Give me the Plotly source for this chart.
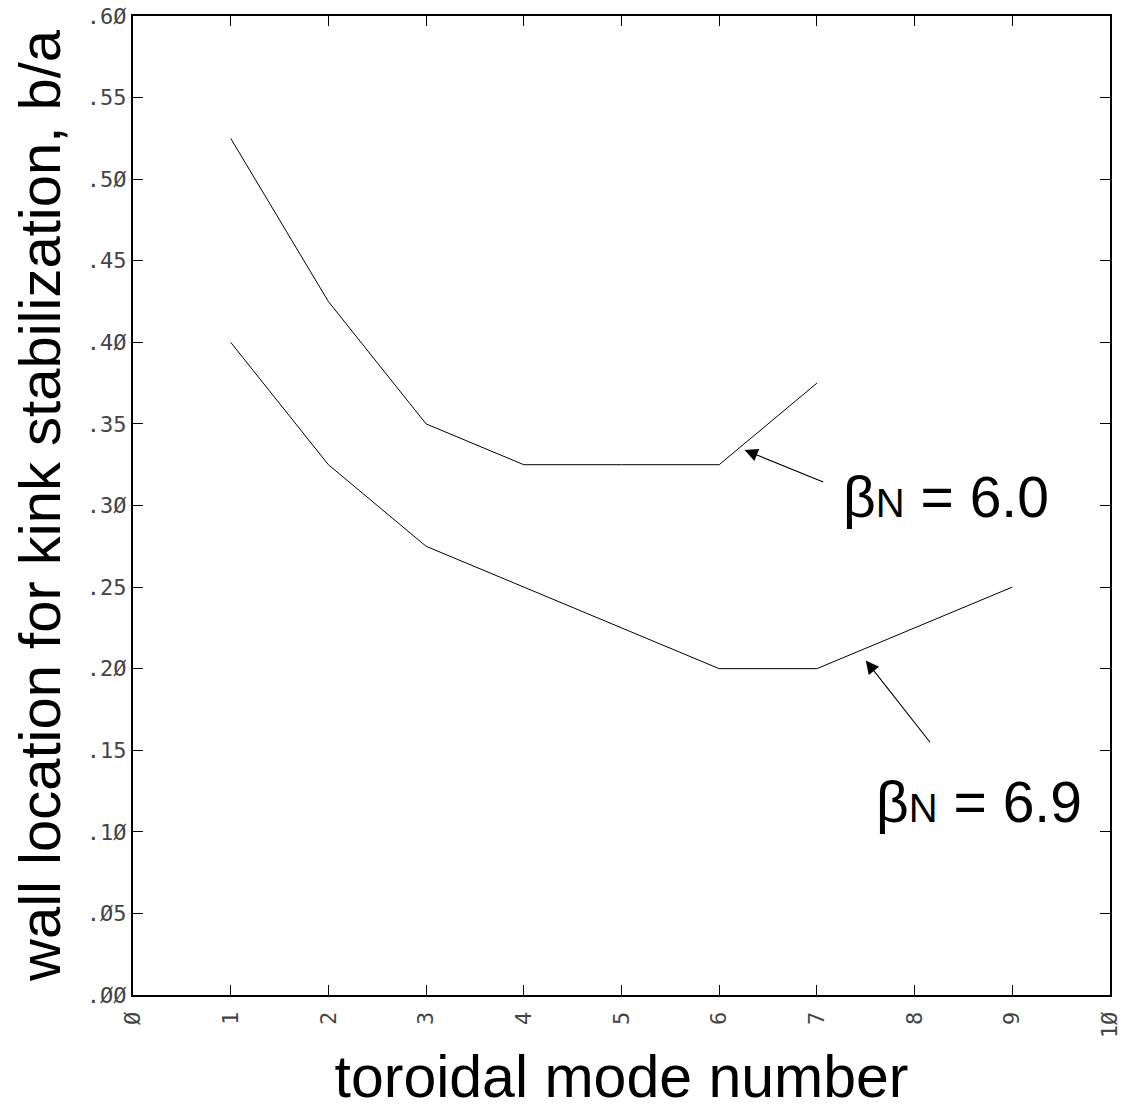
import plotly.graph_objects as go

# data
n_upper = [1, 2, 3, 4, 5, 6, 7]
ba_upper = [0.525, 0.425, 0.35, 0.325, 0.325, 0.325, 0.375]
n_lower = [1, 2, 3, 4, 5, 6, 7, 8, 9]
ba_lower = [0.40, 0.325, 0.275, 0.25, 0.225, 0.20, 0.20, 0.225, 0.25]

x_tickvals = [0, 1, 2, 3, 4, 5, 6, 7, 8, 9, 10]
x_ticktext = ["Ø", "1", "2", "3", "4", "5", "6", "7", "8", "9", "1Ø"]
y_tickvals = [0.0, 0.05, 0.10, 0.15, 0.20, 0.25, 0.30, 0.35, 0.40, 0.45, 0.50, 0.55, 0.60]
y_ticktext = [".ØØ", ".Ø5", ".1Ø", ".15", ".2Ø", ".25", ".3Ø", ".35", ".4Ø", ".45", ".5Ø", ".55", ".6Ø"]

labels = ["β<span style='font-size:40px'>N</span> = 6.0", "β<span style='font-size:40px'>N</span> = 6.9"]

fig = go.Figure()
line_style = dict(color="black", width=1)
fig.add_trace(go.Scatter(x=n_upper, y=ba_upper, mode="lines", line=line_style, showlegend=False))
fig.add_trace(go.Scatter(x=n_lower, y=ba_lower, mode="lines", line=line_style, showlegend=False))

# arrows
fig.add_annotation(x=6.26, y=0.334, ax=7.08, ay=0.314, xref="x", yref="y", axref="x", ayref="y",
                   text="", showarrow=True, arrowhead=2, arrowsize=2.4, arrowwidth=1.1, arrowcolor="black")
fig.add_annotation(x=7.50, y=0.205, ax=8.17, ay=0.154, xref="x", yref="y", axref="x", ayref="y",
                   text="", showarrow=True, arrowhead=2, arrowsize=2.4, arrowwidth=1.1, arrowcolor="black")
# labels
fig.add_annotation(x=8.32, y=0.305, xref="x", yref="y", text=labels[0], showarrow=False,
                   font=dict(family="Liberation Sans, Arial", size=57, color="black"))
fig.add_annotation(x=8.66, y=0.118, xref="x", yref="y", text=labels[1], showarrow=False,
                   font=dict(family="Liberation Sans, Arial", size=57, color="black"))

axis_common = dict(showline=True, linecolor="black", linewidth=2, mirror="ticks", ticks="inside",
                   ticklen=10, tickcolor="black", tickwidth=1, showgrid=False, zeroline=False,
                   automargin=False,
                   tickfont=dict(family="DejaVu Sans Mono", size=22, color="#444"))

fig.update_xaxes(range=[0, 10], tickvals=x_tickvals, ticktext=x_ticktext, tickangle=-90,
                 ticklabelstandoff=6,
                 title=dict(text="toroidal mode number", standoff=18,
                            font=dict(family="Liberation Sans, Arial", size=59, color="black")),
                 **axis_common)
fig.update_yaxes(range=[0, 0.6], tickvals=y_tickvals, ticktext=y_ticktext,
                 title=dict(text="wall location for kink stabilization, b/a", standoff=8,
                            font=dict(family="Liberation Sans, Arial", size=58, color="black")),
                 **axis_common)

fig.update_layout(width=1134, height=1110, margin=dict(l=133, r=24, t=16, b=115),
                  plot_bgcolor="white", paper_bgcolor="white")
fig.write_html("out.html")
